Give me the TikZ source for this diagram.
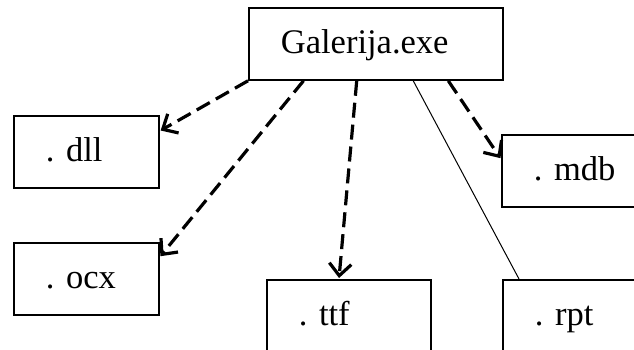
\documentclass[tikz,border=0pt]{standalone}
\usepackage{fontspec}
\setmainfont{Liberation Serif}
\usetikzlibrary{calc,arrows.meta}
\frenchspacing

\tikzset{
  filebox/.style={draw,line width=1.8pt,rectangle,anchor=north west,
    align=left,inner xsep=32pt,inner ysep=0pt,
    text height=46pt,text depth=26pt},
  uses/.style={->,line width=3.2pt,dash pattern=on 15pt off 7pt,
    shorten >=1pt},
  link/.style={line width=1pt}
}

\begin{document}
\begin{tikzpicture}[>={Straight Barb[length=12pt,width=22pt]},x=1pt,y=-1pt,
  font=\fontsize{34.5}{40}\selectfont]
  \useasboundingbox (0,0) rectangle (634,350);
  \clip (0,0) rectangle (634,350);
  % the program and the files it loads
  \node[filebox,text width=190pt] (exe) at (248,7) {Galerija.exe};
  \node[filebox,text width=81pt] (dll) at (13,115) {. dll};
  \node[filebox,text width=81pt] (ocx) at (13,242) {. ocx};
  \node[filebox,text width=100pt] (ttf) at (266,279) {. ttf};
  \node[filebox,text width=120pt] (mdb) at (501,134) {. mdb};
  \node[filebox,text width=120pt] (rpt) at (502,279) {. rpt};
  % dependencies
  \draw[uses] (exe.south west) -- ($(dll.north east)+(0,16)$);
  \draw[uses] ($(exe.south west)!0.217!(exe.south east)$) -- ($(ocx.north east)+(0,15)$);
  \draw[uses] ($(exe.south west)!0.425!(exe.south east)$) -- ($(ttf.north west)!0.44!(ttf.north east)$);
  \draw[uses] ($(exe.south west)!0.783!(exe.south east)$) -- ($(mdb.north west)+(0,25)$);
  \draw[link] ($(exe.south west)!0.646!(exe.south east)$) -- ($(rpt.north west)+(17,0)$);
\end{tikzpicture}
\end{document}
